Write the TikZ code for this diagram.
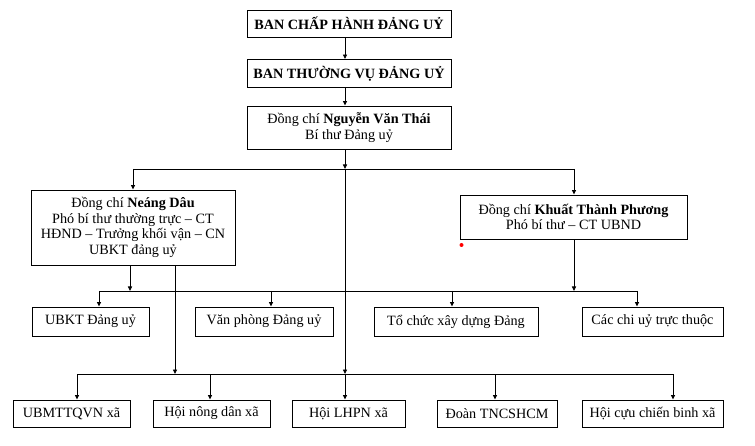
\documentclass[tikz,border=0pt]{standalone}
\usepackage{fontspec}
\setmainfont{Liberation Serif}
\usetikzlibrary{arrows.meta}
\begin{document}
\begin{tikzpicture}[x=1pt,y=-1pt,
  box/.style={draw, line width=0.9pt, align=center, inner sep=0pt, font=\fontsize{14.2}{15.7}\selectfont},
  ttl/.style={box, font=\fontsize{14.2}{15.7}\selectfont\bfseries},
  ln/.style={line width=0.9pt},
  arr/.style={line width=0.9pt, -{Triangle[length=4.5pt,width=4pt]}}]
\useasboundingbox (0,0) rectangle (755,446);
% top chain
\node[ttl, minimum width=204pt, minimum height=27pt] (b1) at (349,23.5) {BAN CHẤP HÀNH ĐẢNG UỶ};
\node[ttl, minimum width=204pt, minimum height=28pt] (b2) at (349,73.5) {BAN THƯỜNG VỤ ĐẢNG UỶ};
\node[box, minimum width=204pt, minimum height=43pt] (b3) at (349,127.5) {Đồng chí \textbf{Nguyễn Văn Thái}\\Bí thư Đảng uỷ};
% deputies
\node[box, minimum width=204pt, minimum height=75pt] (nd) at (133,227.5) {Đồng chí \textbf{Neáng Dâu}\\Phó bí thư thường trực – CT\\HĐND – Trưởng khối vận – CN\\UBKT đảng uỷ};
\node[box, minimum width=227pt, minimum height=44pt] (kt) at (573.5,217) {Đồng chí \textbf{Khuất Thành Phương}\\Phó bí thư – CT UBND};
% row 2
\node[box, minimum width=117pt, minimum height=29pt] (u1) at (90.5,321.5) {UBKT Đảng uỷ};
\node[box, minimum width=138pt, minimum height=29pt] (u2) at (264,321.5) {Văn phòng Đảng uỷ};
\node[box, minimum width=164pt, minimum height=29pt] (u3) at (456,321.5) {Tổ chức xây dựng Đảng};
\node[box, minimum width=141pt, minimum height=29pt] (u4) at (652.5,321.5) {Các chi uỷ trực thuộc};
% row 3
\node[box, minimum width=117pt, minimum height=27pt] (v1) at (71.5,413.5) {UBMTTQVN xã};
\node[box, minimum width=117pt, minimum height=27pt] (v2) at (211.5,413.5) {Hội nông dân xã};
\node[box, minimum width=113pt, minimum height=27pt] (v3) at (348.5,413.5) {Hội LHPN xã};
\node[box, minimum width=120pt, minimum height=27pt] (v4) at (497,413.5) {Đoàn TNCSHCM};
\node[box, minimum width=141pt, minimum height=27pt] (v5) at (652.5,413.5) {Hội cựu chiến binh xã};
% bus coordinates
\coordinate (m1) at (345,169);
\coordinate (m3) at (345,374);
\coordinate (a1L) at (133,169);
\coordinate (a1R) at (574,169);
\coordinate (a2L) at (99,291);
\coordinate (a2R) at (637,291);
\coordinate (a3L) at (77,374);
\coordinate (a3R) at (673,374);
\coordinate (ndA) at (130,265);
\coordinate (ndB) at (175,265);
\coordinate (ktA) at (574,239);
% top chain arrows
\draw[arr] (b1.south -| m1) -- (b2.north -| m1);
\draw[arr] (b2.south -| m1) -- (b3.north -| m1);
\draw[arr] (b3.south -| m1) -- (m1);
\draw[arr] (m1) -- (m3);
\draw[arr] (m3) -- (v3.north -| m3);
% bus 1
\draw[ln] (a1L) -- (a1R);
\draw[arr] (a1L) -- (nd.north -| a1L);
\draw[arr] (a1R) -- (kt.north -| a1R);
% from deputies
\draw[arr] (nd.south -| ndA) -- (ndA |- a2L);
\draw[arr] (nd.south -| ndB) -- (ndB |- a3L);
\draw[arr] (kt.south -| ktA) -- (ktA |- a2R);
% bus 2
\draw[ln] (a2L) -- (a2R);
\draw[arr] (a2L) -- (u1.north -| a2L);
\draw[arr] (271,291) -- (u2.north -| 271,0);
\draw[arr] (452,291) -- (u3.north -| 452,0);
\draw[arr] (a2R) -- (u4.north -| a2R);
% bus 3
\draw[ln] (a3L) -- (a3R);
\draw[arr] (a3L) -- (v1.north -| a3L);
\draw[arr] (210,374) -- (v2.north -| 210,0);
\draw[arr] (495,374) -- (v4.north -| 495,0);
\draw[arr] (a3R) -- (v5.north -| a3R);
% red dot
\fill[red] (461.5,245) circle (2pt);
\end{tikzpicture}
\end{document}
